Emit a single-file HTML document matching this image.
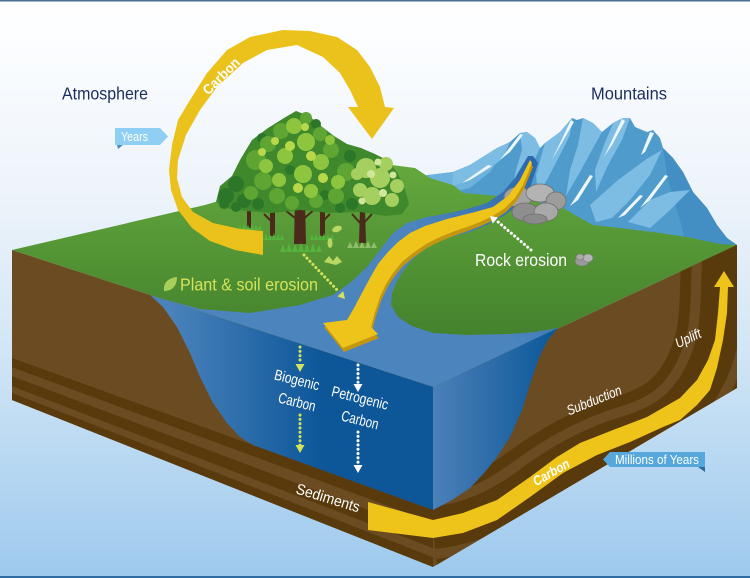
<!DOCTYPE html>
<html><head><meta charset="utf-8">
<style>
html,body{margin:0;padding:0;background:#fff;}
svg{display:block;}
text{font-family:"Liberation Sans",Arial,sans-serif;}
</style></head>
<body>
<svg width="750" height="578" viewBox="0 0 750 578" xmlns="http://www.w3.org/2000/svg">
<defs>
<linearGradient id="sky" x1="0" y1="0" x2="0" y2="1">
 <stop offset="0" stop-color="#ffffff"/>
 <stop offset="0.08" stop-color="#fbfdff"/>
 <stop offset="0.35" stop-color="#ecf3fa"/>
 <stop offset="0.6" stop-color="#d2e6f6"/>
 <stop offset="1" stop-color="#9dc9ed"/>
</linearGradient>
<linearGradient id="grass" gradientUnits="userSpaceOnUse" x1="0" y1="165" x2="0" y2="390">
 <stop offset="0" stop-color="#64a83d"/>
 <stop offset="1" stop-color="#3a7628"/>
</linearGradient>
<linearGradient id="bay" gradientUnits="userSpaceOnUse" x1="530" y1="160" x2="430" y2="245">
 <stop offset="0" stop-color="#2a69ad"/>
 <stop offset="1" stop-color="#4c84bd"/>
</linearGradient>
<linearGradient id="wl" gradientUnits="userSpaceOnUse" x1="170" y1="0" x2="320" y2="0">
 <stop offset="0" stop-color="#4a82bb"/>
 <stop offset="1" stop-color="#0d5799"/>
</linearGradient>
<linearGradient id="wr" gradientUnits="userSpaceOnUse" x1="433" y1="0" x2="550" y2="0">
 <stop offset="0" stop-color="#4b80b9"/>
 <stop offset="0.5" stop-color="#2e6ca9"/>
 <stop offset="1" stop-color="#0c5a9b"/>
</linearGradient>
<clipPath id="rf"><polygon points="433,387 737,245 737,388 433,567"/></clipPath>
</defs>

<!-- sky -->
<rect width="750" height="578" fill="url(#sky)"/>
<rect width="750" height="1.5" fill="#4d6e94"/>
<rect y="576" width="750" height="2" fill="#2f6ca2"/>

<!-- mountains -->
<polygon fill="#4e9bcc" points="420,176 453,172 470,165 497,148 510,142 520,133 527,132 535,138 540,148 545,143 560,132 572,118 577,120 583,118 593,123 602,132 613,123 623,118 630,118 635,127 647,132 653,130 660,138 663,148 673,158 683,172 693,192 707,208 717,225 727,238 737,245 737,262 420,262"/>
<polygon fill="#438fc3" points="663,148 673,158 683,172 693,192 707,208 717,225 727,238 737,245 737,262 690,262 680,220 668,180"/>
<polygon fill="#6cb2dd" points="420,176 453,172 470,165 497,148 505,150 490,172 470,188 440,195 420,200"/>
<g fill="#7dbde4">
<polygon points="453,172 470,165 497,148 510,142 503,158 488,170 470,180 452,186"/>
<polygon points="520,133 527,132 535,138 540,148 532,165 522,182 512,190 516,170 522,150"/>
<polygon points="545,143 560,132 572,118 570,135 560,155 548,178 538,195 536,175"/>
<polygon points="583,118 593,123 602,132 592,150 580,172 566,196 570,170 578,145"/>
<polygon points="613,123 623,118 630,118 622,140 608,165 596,192 595,170 604,145"/>
<polygon points="590,205 618,180 648,158 662,150 650,175 630,200 612,218 596,222"/>
<polygon points="628,222 650,200 670,192 690,190 670,210 650,228"/>
</g>
<g fill="#eef7fc">
<polygon points="520,134 523,135 510,152 500,160"/>
<polygon points="571,120 574,122 560,146 552,160"/>
<polygon points="622,119 625,121 612,145 604,157"/>
<polygon points="650,132 654,133 645,152 641,155"/>
<polygon points="665,175 668,176 650,200 640,208"/>
<polygon points="640,195 643,196 625,215 618,218"/>
<polygon points="488,165 492,166 470,180 462,183"/>
<polygon points="590,175 593,176 578,200 570,206"/>
</g>

<!-- green top -->
<polygon fill="url(#grass)" points="12,250 205,205 272,185 338,168 392,165 415,168 430,178 453,185 463,193 487,195 520,198 563,208 580,218 593,225 620,228 653,232 687,237 720,244 737,245 433,387"/>

<!-- trees -->
<g fill="#4a2a1a">
<polygon points="247,210 251,210 251,228 247,228"/>
<polygon points="270,212 275,212 275,236 270,236"/>
<polygon points="295,200 305,200 306,244 294,244"/>
<polygon points="320,212 325,212 325,236 320,236"/>
<polygon points="360,208 365,208 366,243 359,243"/>
</g>
<g stroke="#4a2a1a" stroke-width="2" fill="none">
<path d="M300,222 L285,210 M300,222 L316,208 M362,225 L352,214 M362,225 L372,214 M272,222 L264,214 M322,222 L330,214"/>
</g>
<path fill="#3f892c" d="M216,202 L220,186 232,176 240,160 252,140 268,128 284,118 296,111 309,116 321,126 334,136 347,144 361,148 375,154 389,161 398,174 405,189 409,204 402,214 385,216 360,212 330,213 300,210 272,213 246,211 226,208 Z"/>
<g fill="#2c762a">
<circle cx="226" cy="196" r="8"/><circle cx="236" cy="184" r="8"/><circle cx="224" cy="204" r="5"/><circle cx="244" cy="201" r="7"/><circle cx="236" cy="207" r="5"/><circle cx="258" cy="204" r="6"/><circle cx="350" cy="156" r="6"/><circle cx="352" cy="204" r="6"/><circle cx="340" cy="208" r="5"/><circle cx="262" cy="138" r="5"/><circle cx="316" cy="124" r="5"/><circle cx="290" cy="170" r="5"/><circle cx="325" cy="195" r="5"/>
</g>
<g fill="#5ea534">
<circle cx="256" cy="160" r="10"/><circle cx="268" cy="144" r="8"/><circle cx="281" cy="131" r="8"/><circle cx="263" cy="181" r="9"/><circle cx="251" cy="193" r="7"/><circle cx="277" cy="196" r="8"/><circle cx="292" cy="203" r="7"/><circle cx="316" cy="201" r="7"/><circle cx="336" cy="196" r="8"/><circle cx="346" cy="172" r="9"/><circle cx="331" cy="150" r="8"/><circle cx="320" cy="134" r="7"/><circle cx="306" cy="118" r="6"/>
</g>
<g fill="#8dc63e">
<circle cx="294" cy="126" r="8"/><circle cx="306" cy="142" r="9"/><circle cx="285" cy="156" r="8"/><circle cx="303" cy="174" r="9"/><circle cx="321" cy="162" r="8"/><circle cx="279" cy="180" r="7"/><circle cx="311" cy="191" r="7"/><circle cx="266" cy="166" r="7"/><circle cx="338" cy="182" r="7"/><circle cx="330" cy="140" r="5"/>
</g>
<g fill="#b8d84a">
<circle cx="290" cy="146" r="5"/><circle cx="311" cy="156" r="5"/><circle cx="298" cy="188" r="5"/><circle cx="275" cy="141" r="4"/><circle cx="323" cy="178" r="5"/><circle cx="262" cy="152" r="4"/><circle cx="305" cy="127" r="4"/>
</g>
<g fill="#a5cf5e">
<circle cx="366" cy="168" r="10"/><circle cx="380" cy="178" r="10"/><circle cx="372" cy="196" r="9"/><circle cx="392" cy="200" r="7"/><circle cx="360" cy="190" r="7"/><circle cx="386" cy="164" r="7"/><circle cx="397" cy="186" r="7"/><circle cx="357" cy="174" r="6"/>
</g>
<g fill="#d0e69a">
<circle cx="371" cy="174" r="4"/><circle cx="383" cy="193" r="4"/><circle cx="362" cy="201" r="3.5"/><circle cx="393" cy="175" r="3.5"/><circle cx="378" cy="162" r="3.5"/>
</g>
<g fill="#56b43e">
<path d="M238,230 l2,-5 l2,5 l2,-6 l2,6 l2,-5 l2,5 l2,-6 l2,6 l2,-5 l2,5 l2,-5 l2,5 z"/>
<path d="M260,240 l2,-6 l2,6 l2,-7 l2,7 l2,-6 l2,6 l2,-7 l2,7 l2,-6 l2,6 l2,-6 l2,6 z"/>
<path d="M280,252 l3,-8 l3,8 l3,-9 l3,9 l3,-8 l3,8 l3,-9 l3,9 l3,-8 l3,8 l3,-9 l3,9 l3,-7 l3,7 z"/>
<path d="M310,240 l2,-6 l2,6 l2,-7 l2,7 l2,-6 l2,6 l2,-7 l2,7 l2,-6 l2,6 l2,-6 l2,6 z"/>
</g>
<path fill="#8fbf6a" d="M347,248 l3,-6 l3,6 l3,-7 l3,7 l3,-6 l3,6 l3,-7 l3,7 l3,-6 l3,6 z"/>
<g fill="#b8d860">
<ellipse cx="337" cy="229" rx="5" ry="3" transform="rotate(-20 337 229)"/>
<ellipse cx="330" cy="243" rx="2.5" ry="5"/>
<path d="M324,262 l5,-6 l4,5 l4,-5 l5,6 l-6,3 z"/>
</g>

<!-- bay / river -->
<polygon fill="url(#bay)" points="160,298 433,387 558,328 535,332 508,334 467,335 433,333 412,326 398,317 391,305 392,293 397,281 403,271 411,261 421,252 433,244 450,237 470,232 487,225 505,215 520,203 530,188 538,163 533,156 528,156 515,178 503,192 487,203 467,209 445,214 427,217 407,223 393,233 380,250 367,267 350,283 333,295 300,305 250,313 200,309"/>

<!-- rocks -->
<g stroke="#6f6f6f" stroke-width="0.8">
<ellipse cx="518" cy="197" rx="14" ry="10" fill="#a3a3a3"/>
<ellipse cx="540" cy="193" rx="14" ry="9" fill="#b3b3b3"/>
<ellipse cx="556" cy="201" rx="10" ry="9" fill="#9c9c9c"/>
<ellipse cx="525" cy="212" rx="13" ry="9" fill="#8e8e8e"/>
<ellipse cx="546" cy="212" rx="12" ry="9" fill="#a8a8a8"/>
<ellipse cx="535" cy="219" rx="12" ry="5" fill="#8a8a8a"/>
</g>

<!-- river arrow -->
<polygon fill="#c3960f" transform="translate(1,4)" points="530,160 520,180 508,196 493,207 475,212 447,219 425,226 410,233 398,242 388,252 378,264 370,278 362,293 354,308 347,320 323,323 343,348 378,334 371,327 375,312 380,297 386,284 393,273 402,262 413,253 426,244 440,237 455,231 467,227 480,222 493,216 505,208 515,198 523,185 532,163"/>
<polygon fill="#efc41a" points="530,160 520,180 508,196 493,207 475,212 447,219 425,226 410,233 398,242 388,252 378,264 370,278 362,293 354,308 347,320 323,323 343,348 378,334 371,327 375,312 380,297 386,284 393,273 402,262 413,253 426,244 440,237 455,231 467,227 480,222 493,216 505,208 515,198 523,185 532,163"/>

<!-- left brown face -->
<polygon fill="#6b4c22" points="12,250 433,387 433,567 12,400"/>
<polygon fill="#583a0c" points="12,358 433,510 433,567 12,400"/>
<polygon fill="#6b4c22" points="12,367.2 433,522.5 433,534.5 12,376.1"/>
<polygon fill="#6b4c22" points="12,386.1 433,548.2 433,557.3 12,392.9"/>

<!-- right brown face -->
<polygon fill="#6b4c22" points="433,387 737,245 737,388 433,567"/>
<g clip-path="url(#rf)" fill="none">
<path d="M433,528 C470,524 500,510 530,488 S590,448 630,436 S690,405 705,375 S721,320 722,290 L724,230" stroke="#583a0c" stroke-width="84"/>
<path d="M433,528 C470,524 500,510 530,488 S590,448 630,436 S690,405 705,375 S721,320 722,290 L724,230" stroke="#6b4c22" stroke-width="62"/>
<path d="M433,528 C470,524 500,510 530,488 S590,448 630,436 S690,405 705,375 S721,320 722,290 L724,230" stroke="#583a0c" stroke-width="42"/>
</g>

<!-- water faces -->
<polygon fill="url(#wl)" points="150,295 433,387 433,510 253,445 240,437 227,423 213,403 200,377 190,353 177,327 163,307"/>
<polygon fill="url(#wr)" points="433,387 558,328 548,340 540,355 532,378 522,410 510,437 497,457 485,472 470,488 452,500 433,510"/>

<!-- lower carbon band -->
<polygon fill="#efc41a" points="368,502 433,520 463,513 497,500 530,477 557,457 580,443 613,430 647,417 680,398 697,380 708,360 715,340 718,313 720,287 714,287 724,271 734,287 728,287 727,313 723,340 717,368 710,390 697,405 680,420 663,427 630,442 597,455 563,473 530,497 497,520 463,533 433,538 368,530"/>

<!-- top carbon ribbon -->
<polygon fill="#ebc21b" points="263,255 235,250 210,241 192,228 178,210 171,190 169,170 172,145 178,120 190,100 207,73 227,50 250,37 283,30 310,31 337,37 357,50 370,67 380,87 385,107 394,108 372,139 348,107 358,107 350,90 340,73 323,57 297,45 267,50 243,63 217,87 200,110 186,135 178,160 177,178 182,197 193,212 213,223 240,229 263,231"/>
<text transform="translate(221,76) rotate(-45)" y="5" text-anchor="middle" font-size="14" font-weight="bold" fill="#fff" textLength="46" lengthAdjust="spacingAndGlyphs">Carbon</text>

<!-- dotted arrows -->
<g fill="none" stroke-linecap="round" stroke-width="3" stroke-dasharray="0.1 4.2">
<line x1="304" y1="255" x2="338" y2="291" stroke="#d4e35a"/>
<line x1="531" y1="250" x2="497" y2="221" stroke="#ffffff"/>
<line x1="300" y1="347" x2="300" y2="364" stroke="#d4e35a"/>
<line x1="300" y1="415" x2="300" y2="446" stroke="#d4e35a"/>
<line x1="358" y1="365" x2="358" y2="385" stroke="#ffffff"/>
<line x1="358" y1="432" x2="358" y2="466" stroke="#ffffff"/>
</g>
<g fill="#d4e35a">
<polygon points="345,299 337.4,296.5 343.2,291.1"/>
<polygon points="300,372 295.5,364 304.5,364"/>
<polygon points="300,453 295.5,445 304.5,445"/>
</g>
<g fill="#ffffff">
<polygon points="490,216 497.9,217.5 492.7,223.5"/>
<polygon points="358,392 353.5,384 362.5,384"/>
<polygon points="358,473 353.5,465 362.5,465"/>
</g>

<!-- labels -->
<text x="62" y="99.5" font-size="17.5" fill="#1b2d5b" textLength="86" lengthAdjust="spacingAndGlyphs">Atmosphere</text>
<text x="591" y="99.5" font-size="17.5" fill="#1b2d5b" textLength="76" lengthAdjust="spacingAndGlyphs">Mountains</text>

<polygon fill="#8fcff3" points="115,128 160,128 168,136.5 160,145 115,145"/>
<polygon fill="#4a8ec0" points="117,145 123,145 118,149"/>
<text x="121" y="141" font-size="12.5" fill="#fff" textLength="27" lengthAdjust="spacingAndGlyphs">Years</text>

<path fill="#a9cf5a" d="M164,291 C163,283 168,278 177,277 C177,286 172,291 164,291 Z"/>
<text x="180" y="290.5" font-size="17.5" fill="#d4e35a" textLength="138" lengthAdjust="spacingAndGlyphs">Plant &amp; soil erosion</text>

<text x="475" y="266" font-size="17.5" fill="#fff" textLength="92" lengthAdjust="spacingAndGlyphs">Rock erosion</text>
<g stroke="#777" stroke-width="0.6">
<ellipse cx="582" cy="261" rx="7" ry="5" fill="#9a9a9a"/>
<ellipse cx="588" cy="258" rx="5" ry="4" fill="#b5b5b5"/>
<ellipse cx="580" cy="257" rx="4" ry="3" fill="#aaaaaa"/>
</g>

<g fill="#fff" font-size="15" text-anchor="middle">
<text transform="translate(297,380) rotate(14)" y="5" textLength="46" lengthAdjust="spacingAndGlyphs">Biogenic</text>
<text transform="translate(297,402) rotate(14)" y="5" textLength="38" lengthAdjust="spacingAndGlyphs">Carbon</text>
<text transform="translate(360,398) rotate(14)" y="5" textLength="58" lengthAdjust="spacingAndGlyphs">Petrogenic</text>
<text transform="translate(360,420) rotate(14)" y="5" textLength="38" lengthAdjust="spacingAndGlyphs">Carbon</text>
<text transform="translate(328,498) rotate(17)" y="5" textLength="66" lengthAdjust="spacingAndGlyphs">Sediments</text>
<text transform="translate(594,400) rotate(-22)" y="5" font-style="italic" font-size="14" textLength="58" lengthAdjust="spacingAndGlyphs">Subduction</text>
<text transform="translate(688,338) rotate(-25)" y="5" font-style="italic" font-size="14" textLength="27" lengthAdjust="spacingAndGlyphs">Uplift</text>
<text transform="translate(551,472) rotate(-30)" y="5" font-style="italic" font-weight="bold" font-size="13.5" textLength="40" lengthAdjust="spacingAndGlyphs">Carbon</text>
</g>

<polygon fill="#55a7dc" points="610,452 705,452 705,467 610,467 603,459.5"/>
<polygon fill="#2f6c9e" points="698,467 705,467 705,472"/>
<text x="615" y="464" font-size="12.5" fill="#fff" textLength="84" lengthAdjust="spacingAndGlyphs">Millions of Years</text>
</svg>
</body></html>
